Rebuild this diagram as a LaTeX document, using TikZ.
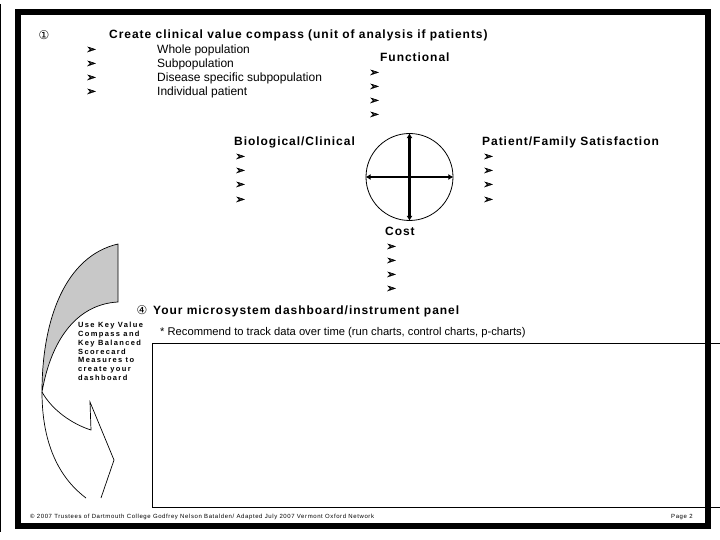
\documentclass[tikz,border=0pt]{standalone}
\usepackage{fontspec}
\setmainfont{Liberation Sans}
\newfontfamily\symfont{DejaVu Sans}
\newfontfamily\bulfont[FakeBold=1.5]{DejaVu Sans}
\newfontfamily\hdfont[LetterSpace=8]{Liberation Sans}
\newfontfamily\notefont[LetterSpace=18]{Liberation Sans}
\newfontfamily\footfont[LetterSpace=10]{Liberation Sans}
\usetikzlibrary{arrows.meta}
\definecolor{bandgray}{RGB}{200,200,200}
\begin{document}
\begin{tikzpicture}[x=1pt,y=-1pt,
  txt/.style={inner sep=0pt, anchor=base west, font=\fontsize{12}{14}\selectfont},
  hd/.style={inner sep=0pt, anchor=base west, font=\hdfont\bfseries\fontsize{12}{14}\selectfont},
  bul/.style={inner sep=0pt, anchor=west, font=\bulfont\fontsize{12}{12}\selectfont},
  num/.style={inner sep=0pt, anchor=center, font=\symfont\fontsize{12}{12}\selectfont},
  note/.style={inner sep=0pt, anchor=north west, align=left, font=\notefont\bfseries\fontsize{7.5}{8.8}\selectfont},
  foot/.style={inner sep=0pt, anchor=base west, font=\footfont\fontsize{6}{7}\selectfont},
  band/.style={line width=0.7pt},
  compassarrow/.style={line width=2.6pt, {Latex[length=5pt,width=6pt]}-{Latex[length=5pt,width=6pt]}}
]
\useasboundingbox (0,0) rectangle (720,540);
\fill[white] (0,0) rectangle (720,540);
% slide frame
\draw[line width=6pt] (18,12) rectangle (708,526);
\draw[line width=1pt] (0.5,4) -- (0.5,532);

% curved arrow (drawn first, under the text)
\filldraw[band, fill=bandgray] (118,244) .. controls (66,256) and (42,318) .. (42,392)
   .. controls (52,335) and (80,304) .. (118,302) -- cycle;
\draw[band] (42,392) .. controls (42,448) and (62,480) .. (86,498);
\draw[band] (42,392) .. controls (52,410) and (72,424) .. (91,430) -- (90,402) -- (114,460) -- (101,498);

% step 1
\node[num] (n1) at (44,35) {①};
\node[hd] (title1) at (109,39) {Create clinical value compass (unit of analysis if patients)};
\foreach \i/\t [count=\k] in {50/Whole population,64/Subpopulation,78/Disease specific subpopulation,92/Individual patient}{
  \node[bul] (ub\k) at (86,\i) {➢};
  \node[txt] (ut\k) at (157,\i+4) {\t};
}

% Functional
\node[hd] (func) at (380,62) {Functional};
\foreach \i [count=\k] in {73,87,101,115}{\node[bul] (fb\k) at (369,\i) {➢};}

% Biological / Clinical
\node[hd] (bio) at (234,146) {Biological/Clinical};
\foreach \i [count=\k] in {157,171,185,200}{\node[bul] (bb\k) at (235,\i) {➢};}

% Patient / Family
\node[hd] (pfs) at (482,146) {Patient/Family Satisfaction};
\foreach \i [count=\k] in {157,171,185,200}{\node[bul] (pb\k) at (483,\i) {➢};}

% compass
\node[draw, circle, line width=0.8pt, minimum size=87pt, inner sep=0pt] (compass) at (409.5,177) {};
\draw[compassarrow] (compass.west) -- (compass.east);
\draw[compassarrow] (compass.north) -- (compass.south);

% Cost
\node[hd] (cost) at (385,236) {Cost};
\foreach \i [count=\k] in {247,261,275,289}{\node[bul] (cb\k) at (386,\i) {➢};}

% step 4
\node[num] (n4) at (142,310) {④};
\node[hd] (title4) at (153,314) {Your microsystem dashboard/instrument panel};
\node[txt, font=\fontsize{11.2}{13}\selectfont] (rec) at (160,335) {* Recommend to track data over time (run charts, control charts, p-charts)};

% side note
\node[note] (note) at (78,322) {Use Key Value\\Compass and\\Key Balanced\\Scorecard\\Measures to\\create your\\dashboard};

% dashboard box
\draw[line width=0.8pt] (722,343) -- (152,343) -- (152,507) -- (722,507);

% footer
\node[foot] (footer) at (30,518.5) {© 2007 Trustees of Dartmouth College Godfrey Nelson Batalden/ Adapted July 2007 Vermont Oxford Network};
\node[foot] (page) at (671,518.5) {Page 2};
\end{tikzpicture}
\end{document}
